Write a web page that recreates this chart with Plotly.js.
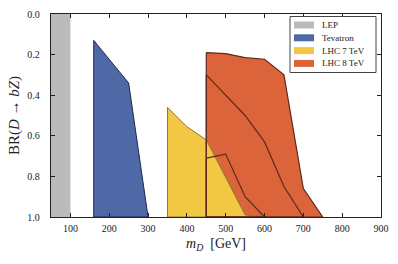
<!DOCTYPE html>
<html>
<head>
<meta charset="utf-8">
<script src="https://cdn.plot.ly/plotly-3.0.1.min.js"></script>
<style>html,body{margin:0;padding:0;background:#fff;}#chart{width:398px;height:264px;}</style>
</head>
<body>
<div id="chart"></div>
<script>
// Exclusion regions (mass in GeV, branching ratio)
const lepMass = [50, 100, 100, 50];
const lepBR = [0, 0, 1, 1];
const tevMass = [160, 250, 300, 160, 160];
const tevBR = [0.13, 0.34, 1.0, 1.0, 0.13];
const lhc7Mass = [350, 400, 450, 550, 600, 350, 350];
const lhc7BR = [0.46, 0.555, 0.62, 0.99, 1.0, 1.0, 0.46];
const lhc8OuterMass = [450, 500, 550, 600, 650, 700, 750, 450, 450];
const lhc8OuterBR = [0.19, 0.195, 0.215, 0.223, 0.30, 0.86, 1.0, 1.0, 0.19];
const lhc8MidMass = [450, 500, 550, 600, 650, 700, 450, 450];
const lhc8MidBR = [0.30, 0.40, 0.50, 0.63, 0.85, 1.0, 1.0, 0.30];
const lhc8InnerMass = [450, 500, 550, 600, 450, 450];
const lhc8InnerBR = [0.71, 0.69, 0.90, 1.0, 1.0, 0.71];
const legendNames = ['LEP', 'Tevatron', 'LHC 7 TeV', 'LHC 8 TeV'];
const xTicks = [100, 200, 300, 400, 500, 600, 700, 800, 900];
const yTicks = [0.0, 0.2, 0.4, 0.6, 0.8, 1.0];

const grey = '#bbbbbb', blue = '#4f69a6', yellow = '#f2c744', red = '#dc643a';
const redEdge = '#5e2a1a';
const legendColors = [grey, blue, yellow, red];

const traces = [
  {x: lepMass, y: lepBR, type: 'scatter', mode: 'lines', fill: 'toself', fillcolor: grey,
   line: {width: 0, color: grey}, showlegend: false},
  {x: tevMass, y: tevBR, type: 'scatter', mode: 'lines', fill: 'toself', fillcolor: blue,
   line: {width: 1, color: '#1f2a48'}, showlegend: false},
  {x: lhc8OuterMass, y: lhc8OuterBR, type: 'scatter', mode: 'lines', fill: 'toself', fillcolor: red,
   line: {width: 0, color: red}, showlegend: false},
  {x: lhc7Mass, y: lhc7BR, type: 'scatter', mode: 'lines', fill: 'toself', fillcolor: yellow,
   line: {width: 1, color: '#8c7a2c'}, showlegend: false},
  {x: lhc8OuterMass, y: lhc8OuterBR, type: 'scatter', mode: 'lines', line: {width: 1.2, color: redEdge}, showlegend: false},
  {x: lhc8MidMass, y: lhc8MidBR, type: 'scatter', mode: 'lines', line: {width: 1.2, color: redEdge}, showlegend: false},
  {x: lhc8InnerMass, y: lhc8InnerBR, type: 'scatter', mode: 'lines', line: {width: 1.2, color: redEdge}, showlegend: false}
];

// manual legend (pixel layout converted to paper coords)
const plotL = 51, plotR = 381, plotT = 14, plotB = 217;
const px = v => (v - plotL) / (plotR - plotL);
const py = v => (plotB - v) / (plotB - plotT);
const serif = 'Liberation Serif, DejaVu Serif, serif';
const shapes = [{type: 'rect', xref: 'paper', yref: 'paper', x0: px(290), x1: px(376), y0: py(72.5), y1: py(16.5),
                 fillcolor: '#fff', line: {color: '#444', width: 1}, layer: 'above'}];
const annotations = [];
legendNames.forEach((n, i) => {
  const cy = 25 + i * 12.8;
  shapes.push({type: 'rect', xref: 'paper', yref: 'paper', x0: px(294), x1: px(314), y0: py(cy + 3.5), y1: py(cy - 3.5),
               fillcolor: legendColors[i], line: {width: 0}, layer: 'above'});
  annotations.push({xref: 'paper', yref: 'paper', x: px(320), y: py(cy), xanchor: 'left', yanchor: 'middle',
                    text: n, showarrow: false, font: {family: serif, size: 9, color: '#222'}});
});

const layout = {
  width: 398, height: 264,
  margin: {l: 51, r: 17, t: 14, b: 47},
  paper_bgcolor: '#fff', plot_bgcolor: '#fff',
  font: {family: serif, size: 10, color: '#222'},
  showlegend: false,
  shapes: shapes, annotations: annotations,
  xaxis: {range: [50, 900], tickvals: xTicks, ticks: 'inside', ticklen: 4, tickcolor: '#222',
          showline: true, linecolor: '#222', linewidth: 1.2, mirror: 'ticks', showgrid: false, zeroline: false,
          tickfont: {family: serif, size: 10}, ticklabelstandoff: 2,
          title: {text: '<i>m</i><sub><i>D</i></sub>  [GeV]', font: {family: serif, size: 14}, standoff: 5}},
  yaxis: {range: [1, 0], tickvals: yTicks, ticktext: yTicks.map(v => v.toFixed(1)), ticks: 'inside', ticklen: 4,
          tickcolor: '#222', showline: true, linecolor: '#222', linewidth: 1.2, mirror: 'ticks', showgrid: false,
          zeroline: false, tickfont: {family: serif, size: 10}, ticklabelstandoff: 8,
          title: {text: 'BR(<i>D</i> → <i>bZ</i>)', font: {family: serif, size: 15}, standoff: 4}}
};
Plotly.newPlot('chart', traces, layout, {displayModeBar: false, staticPlot: true});
</script>
</body>
</html>
